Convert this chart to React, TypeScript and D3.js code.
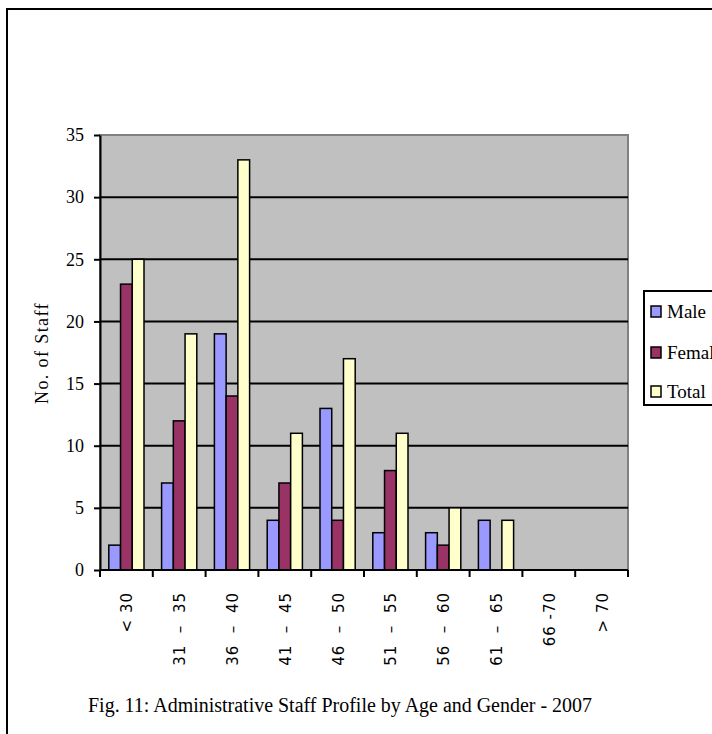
import React, { useEffect, useRef } from 'react';
import * as d3 from 'd3';

const ageGroups = ['< 30', '31  –  35', '36  –  40', '41  –  45', '46  –  50', '51  –  55', '56  –  60', '61  –  65', '66 -70', '> 70'];
const seriesNames = ['Male', 'Femal', 'Total'];
const maleCounts = [2, 7, 19, 4, 13, 3, 3, 4, 0, 0];
const femaleCounts = [23, 12, 14, 7, 4, 8, 2, 0, 0, 0];
const totalCounts = [25, 19, 33, 11, 17, 11, 5, 4, 0, 0];
const yTicks = [0, 5, 10, 15, 20, 25, 30, 35];
const seriesColors = ['#9999FF', '#993366', '#FFFFCC'];

const serifFont = '"Liberation Serif", "DejaVu Serif", serif';

export default function App() {
  const svgRef = useRef<SVGSVGElement>(null);

  useEffect(() => {
    if (!svgRef.current) return;
    const svg = d3.select(svgRef.current);
    svg.selectAll('*').remove();

    const plot = { left: 100, right: 628, top: 135, bottom: 570 };

    // outer frame
    svg.append('rect')
      .attr('x', 7).attr('y', 9)
      .attr('width', 720).attr('height', 740)
      .attr('fill', 'white')
      .attr('stroke', '#000').attr('stroke-width', 2);

    const x = d3.scaleBand<string>()
      .domain(ageGroups)
      .range([plot.left, plot.right])
      .paddingInner(0).paddingOuter(0);

    // excel style: gap width 150%
    const xInner = d3.scaleBand<string>()
      .domain(seriesNames)
      .range([0, x.bandwidth()])
      .paddingInner(0)
      .paddingOuter(0.75);

    const y = d3.scaleLinear().domain([0, 35]).range([plot.bottom, plot.top]);

    // plot background
    svg.append('rect')
      .attr('x', plot.left).attr('y', plot.top)
      .attr('width', plot.right - plot.left).attr('height', plot.bottom - plot.top)
      .attr('fill', '#C0C0C0')
      .attr('stroke', '#808080').attr('stroke-width', 2);

    // gridlines
    svg.append('g')
      .selectAll('line')
      .data(yTicks.filter((t) => t > 0 && t < 35))
      .enter()
      .append('line')
      .attr('x1', plot.left).attr('x2', plot.right)
      .attr('y1', (d) => y(d)).attr('y2', (d) => y(d))
      .attr('stroke', '#000').attr('stroke-width', 2);

    // bars
    const rows = ageGroups.map((g, i) => ({
      group: g,
      values: [maleCounts[i], femaleCounts[i], totalCounts[i]],
    }));

    svg.append('g')
      .selectAll('g')
      .data(rows)
      .enter()
      .append('g')
      .attr('transform', (d) => 'translate(' + x(d.group) + ',0)')
      .selectAll('rect')
      .data((d) => d.values.map((v, k) => ({ key: seriesNames[k], value: v, color: seriesColors[k] })).filter((b) => b.value > 0))
      .enter()
      .append('rect')
      .attr('x', (d) => xInner(d.key)!)
      .attr('width', xInner.bandwidth())
      .attr('y', (d) => y(d.value))
      .attr('height', (d) => y(0) - y(d.value))
      .attr('fill', (d) => d.color)
      .attr('stroke', '#000')
      .attr('stroke-width', 1.5);

    // y axis
    const yAxis = svg.append('g')
      .attr('transform', 'translate(' + plot.left + ',0)')
      .call(d3.axisLeft(y).tickValues(yTicks).tickSize(6).tickSizeOuter(0));
    yAxis.select('.domain').attr('stroke', '#000').attr('stroke-width', 2);
    yAxis.selectAll('.tick line').attr('stroke', '#000').attr('stroke-width', 2);
    yAxis.selectAll('.tick text')
      .attr('x', -16)
      .style('font-family', serifFont)
      .style('font-size', '18px')
      .attr('fill', '#000');

    // x axis
    const xAxis = svg.append('g')
      .attr('transform', 'translate(0,' + plot.bottom + ')');
    xAxis.append('line')
      .attr('x1', plot.left).attr('x2', plot.right)
      .attr('stroke', '#000').attr('stroke-width', 2);
    xAxis.selectAll('line.tick')
      .data(ageGroups.map((g) => x(g)!).concat([plot.right]))
      .enter()
      .append('line')
      .attr('class', 'tick')
      .attr('x1', (d) => d).attr('x2', (d) => d)
      .attr('y1', 0).attr('y2', 7)
      .attr('stroke', '#000').attr('stroke-width', 2);
    xAxis.selectAll('text')
      .data(ageGroups)
      .enter()
      .append('text')
      .attr('transform', (d) => 'translate(' + (x(d)! + x.bandwidth() / 2 + 6) + ',22) rotate(-90)')
      .attr('text-anchor', 'end')
      .style('font-family', '"DejaVu Sans", sans-serif')
      .style('font-size', '15px')
      .style('letter-spacing', '1px')
      .style('white-space', 'pre')
      .attr('fill', '#000')
      .text((d) => d);

    // y axis title
    svg.append('text')
      .attr('transform', 'translate(48,' + 353 + ') rotate(-90)')
      .attr('text-anchor', 'middle')
      .style('font-family', serifFont)
      .style('font-size', '18px')
      .style('letter-spacing', '1.4px')
      .attr('fill', '#000')
      .text('No. of Staff');

    // legend
    const legend = svg.append('g').attr('transform', 'translate(644,291)');
    legend.append('rect')
      .attr('width', 80).attr('height', 114)
      .attr('fill', 'white')
      .attr('stroke', '#000').attr('stroke-width', 2);
    const items = legend.selectAll('g.item')
      .data(seriesNames)
      .enter()
      .append('g')
      .attr('class', 'item')
      .attr('transform', (d, i) => 'translate(7,' + [15, 56, 95][i] + ')');
    items.append('rect')
      .attr('width', 10).attr('height', 11)
      .attr('fill', (d, i) => seriesColors[i])
      .attr('stroke', '#000').attr('stroke-width', 1.5);
    items.append('text')
      .attr('x', 16).attr('y', 12)
      .style('font-family', serifFont)
      .style('font-size', '19px')
      .attr('fill', '#000')
      .text((d) => d);

    // caption
    svg.append('text')
      .attr('x', 88).attr('y', 712)
      .attr('textLength', 504)
      .attr('lengthAdjust', 'spacingAndGlyphs')
      .style('font-family', serifFont)
      .style('font-size', '20px')
      .attr('fill', '#000')
      .text('Fig. 11: Administrative Staff Profile by Age and Gender - 2007');
  }, []);

  return (
    <svg
      ref={svgRef}
      width={712}
      height={734}
      style={{ position: 'absolute', left: 0, top: 0, background: 'white' }}
    />
  );
}
